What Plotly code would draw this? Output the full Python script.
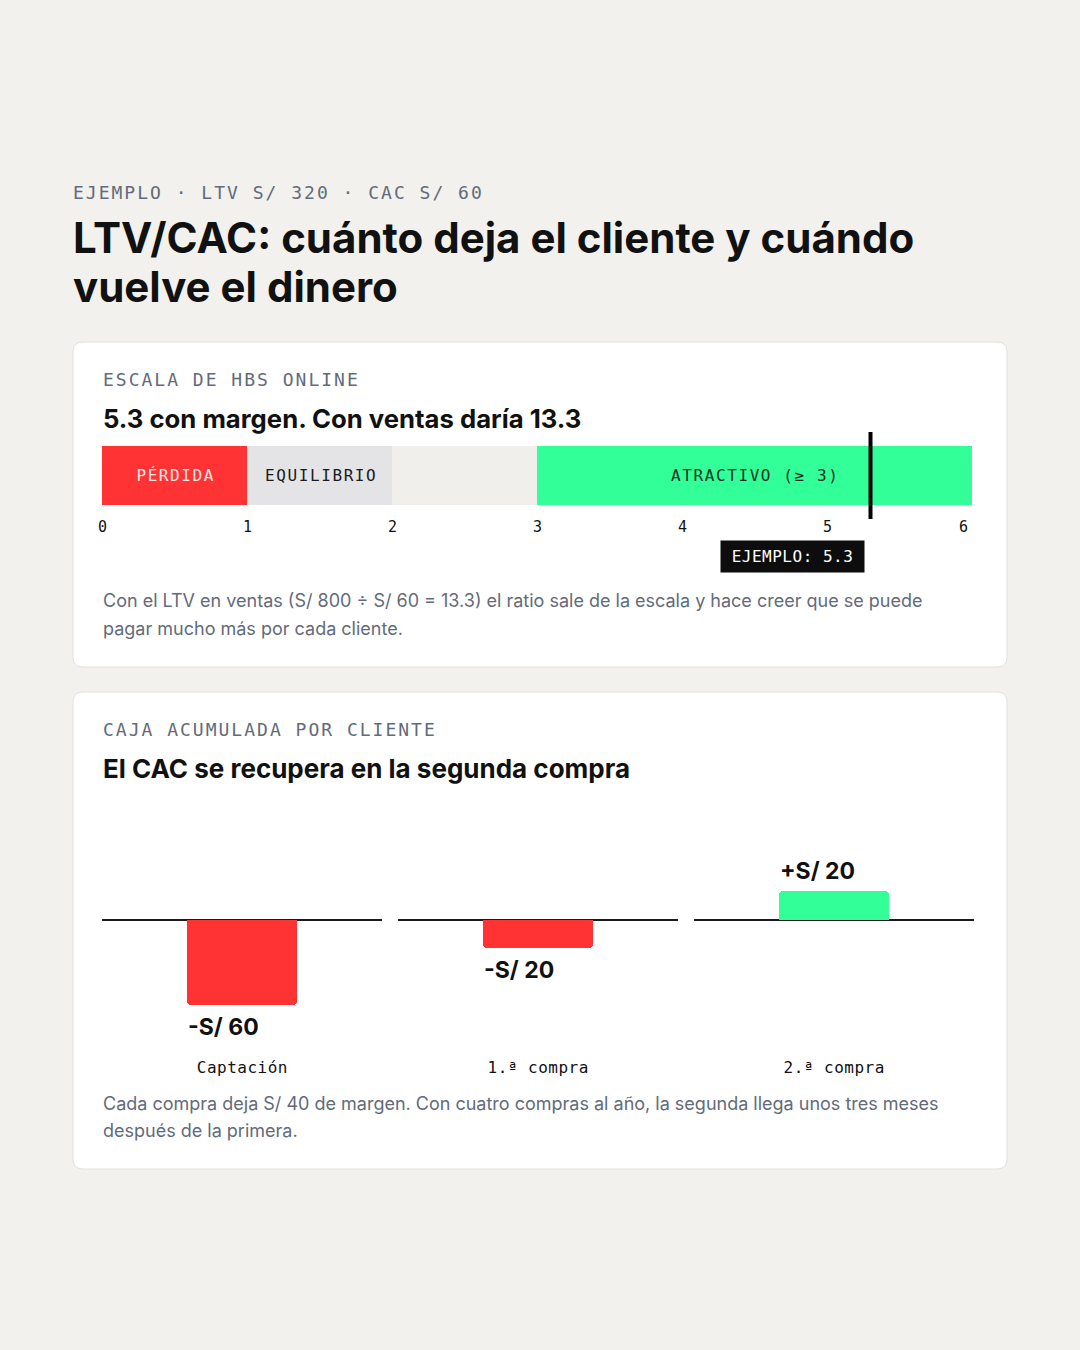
import json
import plotly.graph_objects as go

# ---------------- data ----------------
kicker = "EJEMPLO · LTV S/ 320 · CAC S/ 60"
title_lines = ["LTV/CAC: cuánto deja el cliente y cuándo", "vuelve el dinero"]

scale_eyebrow = "ESCALA DE HBS ONLINE"
scale_title = "5.3 con margen. Con ventas daría 13.3"
scale_labels = ["PÉRDIDA", "EQUILIBRIO", "", "ATRACTIVO (≥ 3)"]
scale_start = [0, 1, 2, 3]
scale_end = [1, 2, 3, 6]
scale_ticks = [0, 1, 2, 3, 4, 5, 6]
example_value = 5.3
example_label = "EJEMPLO: 5.3"
scale_note = ["Con el LTV en ventas (S/ 800 ÷ S/ 60 = 13.3) el ratio sale de la escala y hace creer que se puede",
              "pagar mucho más por cada cliente."]

cash_eyebrow = "CAJA ACUMULADA POR CLIENTE"
cash_title = "El CAC se recupera en la segunda compra"
cash_categories = ["Captación", "1.ª compra", "2.ª compra"]
cash_values = [-60, -20, 20]
cash_labels = ["-S/ 60", "-S/ 20", "+S/ 20"]
cash_note = ["Cada compra deja S/ 40 de margen. Con cuatro compras al año, la segunda llega unos tres meses",
             "después de la primera."]

# ---------------- style ----------------
W, H = 1080, 1350
BG = "#f2f1ee"
RED = "#ff3333"
GREEN = "#33ff99"
GRAY1 = "#e4e4e7"
GRAY2 = "#f0efec"
MUTED = "#626b7a"
INK = "#111111"
MONO = "DejaVu Sans Mono"
SANS = "Inter"
scale_colors = [RED, GRAY1, GRAY2, GREEN]
scale_text_colors = ["#ffe8e8", "#1a1a1a", "#1a1a1a", "#123322"]


def fx(p):
    return p / W


def fy(p):
    return 1 - p / H


fig = go.Figure()
annotations = []
shapes = []
spacing = {}  # annotation index -> letter spacing (px)


def add_ann(ann, ls=None):
    if ls:
        spacing[len(annotations)] = ls
    annotations.append(ann)


def card(x0, y0, x1, y1, r=10):
    rx, ry = r / W, r / H
    X0, X1 = fx(x0), fx(x1)
    Y0, Y1 = fy(y0), fy(y1)  # Y0 top, Y1 bottom
    path = (f"M {X0+rx},{Y0} L {X1-rx},{Y0} Q {X1},{Y0} {X1},{Y0-ry} "
            f"L {X1},{Y1+ry} Q {X1},{Y1} {X1-rx},{Y1} "
            f"L {X0+rx},{Y1} Q {X0},{Y1} {X0},{Y1+ry} "
            f"L {X0},{Y0-ry} Q {X0},{Y0} {X0+rx},{Y0} Z")
    shapes.append(dict(type="path", xref="paper", yref="paper", path=path,
                       fillcolor="white", line=dict(color="#e3e1dc", width=1), layer="below"))


def text(x, y, s, size, color, family, weight="normal", ls=None):
    add_ann(dict(x=fx(x), y=fy(y), xref="paper", yref="paper", text=s,
                 showarrow=False, xanchor="left", yanchor="middle", align="left",
                 font=dict(size=size, color=color, family=family, weight=weight)), ls)


card(73, 342, 1007, 667)
card(73, 692, 1007, 1169)

# header
text(71, 192, kicker, 18, MUTED, MONO, ls=2)
text(71, 238, title_lines[0], 42, INK, SANS, weight="bold")
text(71, 286, title_lines[1], 42, INK, SANS, weight="bold")

# card 1 text
text(101, 379, scale_eyebrow, 18, MUTED, MONO, ls=2)
text(101, 418, scale_title, 25.7, INK, SANS, weight="bold")
text(101, 601, scale_note[0], 18, MUTED, SANS)
text(101, 628, scale_note[1], 18, MUTED, SANS)

# ---------------- scale bar ----------------
fig.add_trace(go.Bar(
    orientation="h", y=[0.5] * len(scale_start),
    x=[e - s for s, e in zip(scale_start, scale_end)], base=scale_start,
    width=1, marker=dict(color=scale_colors, line=dict(width=0)),
    hoverinfo="skip", showlegend=False, xaxis="x", yaxis="y"))

for s, e, lab, col in zip(scale_start, scale_end, scale_labels, scale_text_colors):
    if lab:
        add_ann(dict(x=(s + e) / 2, y=0.5, xref="x", yref="y", text=lab,
                     showarrow=False, xanchor="center", yanchor="middle", xshift=1,
                     font=dict(size=16, color=col, family=MONO)), 1.6)

for i, t in enumerate(scale_ticks):
    add_ann(dict(x=t, y=fy(527), xref="x", yref="paper", text=str(t),
                 showarrow=False, xanchor="center", yanchor="middle",
                 xshift=-9 if i == len(scale_ticks) - 1 else 0,
                 font=dict(size=15, color=INK, family=MONO)))

shapes.append(dict(type="line", xref="x", yref="paper", x0=example_value, x1=example_value,
                   y0=fy(519), y1=fy(432), line=dict(color="black", width=4)))
add_ann(dict(x=example_value, y=fy(556), xref="x", yref="paper", text=example_label,
             showarrow=False, xanchor="right", yanchor="middle", xshift=-6,
             bgcolor="#0d0d0d", borderpad=6, width=131,
             font=dict(size=16, color="white", family=MONO)), 0.5)

# ---------------- card 2 ----------------
text(101, 729, cash_eyebrow, 18, MUTED, MONO, ls=2)
text(101, 768, cash_title, 26, INK, SANS, weight="bold")
text(101, 1103, cash_note[0], 18, MUTED, SANS)
text(101, 1130, cash_note[1], 18, MUTED, SANS)

panels = [(102, 382), (398, 678), (694, 974)]
y_top_px, y_bot_px = 849.2, 1047.5
layout_axes = {}
for i, (cat, val, lab, (p0, p1)) in enumerate(zip(cash_categories, cash_values, cash_labels, panels)):
    n = i + 2
    xa, ya = f"x{n}", f"y{n}"
    fig.add_trace(go.Bar(
        x=[cat], y=[val], width=110 / 280,
        marker=dict(color=GREEN if val >= 0 else RED, line=dict(width=0), cornerradius=4),
        hoverinfo="skip", showlegend=False, xaxis=xa, yaxis=ya))
    layout_axes[f"xaxis{n}"] = dict(domain=[fx(p0), fx(p1)], range=[-0.5, 0.5], visible=False,
                                    anchor=ya, fixedrange=True)
    layout_axes[f"yaxis{n}"] = dict(domain=[fy(y_bot_px), fy(y_top_px)], range=[-90, 50],
                                    visible=False, anchor=xa, fixedrange=True)
    shapes.append(dict(type="line", xref=f"{xa} domain", yref=ya, x0=0, x1=1, y0=0, y1=0,
                       line=dict(color="#1a1a1a", width=2), layer="below"))
    add_ann(dict(x=cat, y=val, xref=xa, yref=ya, text=lab, showarrow=False,
                 xanchor="left", yanchor="middle", align="left", xshift=-56,
                 yshift=21 if val >= 0 else -22,
                 font=dict(size=23, color=INK, family=SANS, weight="bold")))
    add_ann(dict(x=cat, y=fy(1067), xref=xa, yref="paper", text=cat, showarrow=False,
                 xanchor="center", yanchor="middle",
                 font=dict(size=16, color=INK, family=MONO)), 0.5)

fig.update_layout(
    width=W, height=H, autosize=False,
    margin=dict(l=0, r=0, t=0, b=0),
    paper_bgcolor=BG, plot_bgcolor="rgba(0,0,0,0)",
    barmode="overlay", bargap=0,
    xaxis=dict(domain=[fx(102), fx(972)], range=[0, 6], visible=False, fixedrange=True, anchor="y"),
    yaxis=dict(domain=[fy(505), fy(446)], range=[0, 1], visible=False, fixedrange=True, anchor="x"),
    shapes=shapes, annotations=annotations,
    **layout_axes,
)

post = """
document.body.style.margin='0';
document.body.style.background='%s';
var LS = %s;
function applyLS(){
  document.querySelectorAll('.annotation').forEach(function(g){
    var idx = g.getAttribute('data-index');
    if (LS[idx] !== undefined) {
      g.querySelectorAll('text').forEach(function(t){ t.style.letterSpacing = LS[idx] + 'px'; });
    }
  });
}
applyLS();
""" % (BG, json.dumps({str(k): v for k, v in spacing.items()}))

fig.write_html("out.html", config={"displayModeBar": False}, post_script=post)
